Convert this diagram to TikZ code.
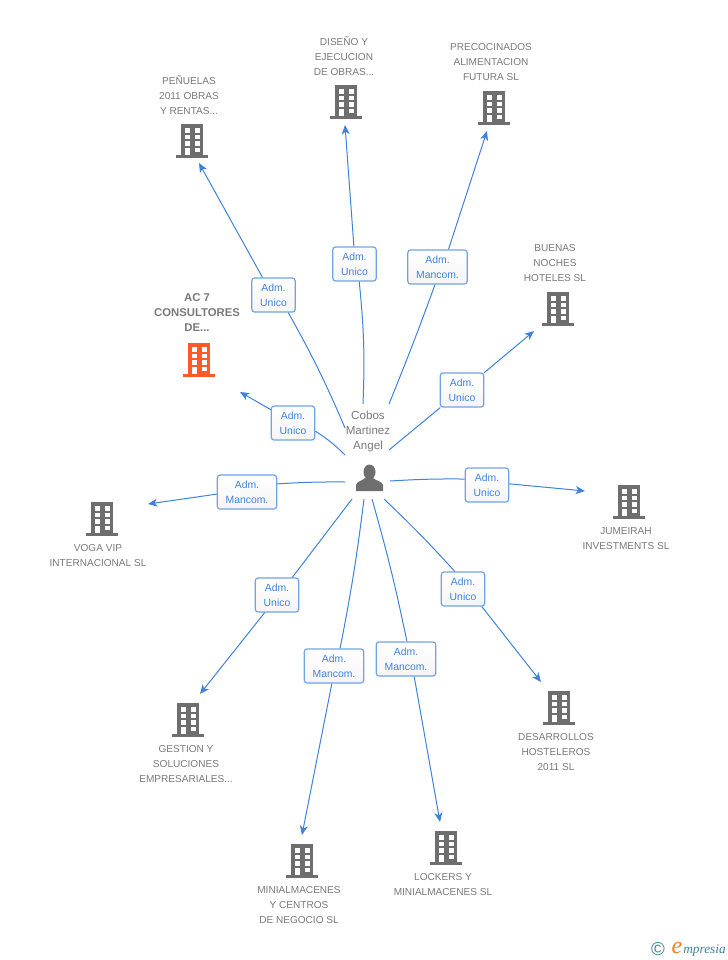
\documentclass[tikz,border=0pt]{standalone}
\usepackage{fontspec}
\setmainfont{Liberation Sans}
\newfontfamily\logofont{Liberation Serif}
\usetikzlibrary{arrows.meta,positioning}
\definecolor{bldgray}{HTML}{6E6E6E}
\definecolor{txtgray}{HTML}{7A7A7A}
\definecolor{orgorange}{HTML}{FF5A2A}
\definecolor{linkblue}{HTML}{3F82DC}
\definecolor{boxblue}{HTML}{6FA3E4}
\definecolor{logoteal}{HTML}{3F7F95}
\definecolor{logoorange}{HTML}{F08020}
\tikzset{
	building/.pic={
		\fill[pic actions] (-11,-17) rectangle (11,16);
		\fill[pic actions] (-16,14) rectangle (16,17);
		\foreach \wy in {-12.7,-6.3,0.3}
		{
			\fill[white] (-7.5,\wy) rectangle (-2,\wy+4.4);
			\fill[white] (2.5,\wy) rectangle (8,\wy+4.4);
		}
		\fill[white] (2.5,7) rectangle (8,11.3);
		\fill[white] (-7.5,7) rectangle (-2,14);
	}
}

\begin{document}
\begin{tikzpicture}
		[
			x=0.75pt,
			y=-0.75pt,
			align=center,
			firm/.style={text=txtgray,font=\fontsize{7.55}{11.25}\selectfont,inner sep=0pt},
			firmbold/.style={firm,font=\fontsize{8.5}{11.25}\selectfont\bfseries},
			personname/.style={firm,font=\fontsize{8.7}{11.25}\selectfont},
			role/.style={draw=boxblue,line width=0.9pt,rounded corners=2pt,top color=white,bottom color=black!4,
				text=linkblue,font=\fontsize{7.8}{11.25}\selectfont,inner sep=0pt,minimum height=25.5pt},
			single/.style={role,minimum width=32.5pt},
			joint/.style={role,minimum width=44.5pt},
			link/.style={draw=linkblue,line width=0.75pt},
			arrow/.style={link,-{Stealth[length=7pt,width=6pt,inset=2pt]}}
		]

		\useasboundingbox (0,0) rectangle (728,960);

		% person
		\node[personname] (Pname) at (368,431) {Cobos\\Martinez\\Angel};
		\fill[bldgray] (356,491) -- (356,485) .. controls (357,481) and (362,481) .. (365,478)
			-- (373,478) .. controls (376,481) and (382,481) .. (383,485) -- (383,491) -- cycle;
		\fill[bldgray] (369.5,472) ellipse (6 and 7.5);

		% companies
		\node[firm] (Penuelas) at (189,95) {PEÑUELAS\\2011 OBRAS\\Y RENTAS...};
		\node[firm] (Diseno) at (344,56) {DISEÑO Y\\EJECUCION\\DE OBRAS...};
		\node[firm] (Precocinados) at (491,62) {PRECOCINADOS\\ALIMENTACION\\FUTURA SL};
		\node[firm] (Buenas) at (555,263) {BUENAS\\NOCHES\\HOTELES SL};
		\node[firmbold] (Consultores) at (197,313) {AC 7\\CONSULTORES\\DE...};
		\node[firm] (Jumeirah) at (626,538.5) {JUMEIRAH\\INVESTMENTS SL};
		\node[firm] (Voga) at (98,555.5) {VOGA VIP\\INTERNACIONAL SL};
		\node[firm] (Gestion) at (186,764) {GESTION Y\\SOLUCIONES\\EMPRESARIALES...};
		\node[firm] (Minial) at (299,905) {MINIALMACENES\\Y CENTROS\\DE NEGOCIO SL};
		\node[firm] (Lockers) at (443,884.5) {LOCKERS Y\\MINIALMACENES SL};
		\node[firm] (Desarrollos) at (556,752) {DESARROLLOS\\HOSTELEROS\\2011 SL};

		% building icons
		\foreach \bx/\by in {192/141,346/102,494/108,558/309,629/502,102/519,188/720,302/861,446/848,559/708}
		\pic[fill=bldgray] at (\bx,\by) {building};
		\pic[fill=orgorange] at (199,360) {building};

		% role boxes
		\node[single] (R1) at (273.5,295) {Adm.\\Unico};
		\node[single] (R2) at (354.5,264) {Adm.\\Unico};
		\node[joint] (R3) at (437.5,267) {Adm.\\Mancom.};
		\node[single] (R4) at (462,390) {Adm.\\Unico};
		\node[single] (R5) at (293,423) {Adm.\\Unico};
		\node[single] (R6) at (487,485) {Adm.\\Unico};
		\node[joint] (R7) at (247,492) {Adm.\\Mancom.};
		\node[single] (R8) at (277,595) {Adm.\\Unico};
		\node[joint] (R9) at (334,666) {Adm.\\Mancom.};
		\node[joint] (R10) at (406,659) {Adm.\\Mancom.};
		\node[single] (R11) at (463,589) {Adm.\\Unico};

		% link starts round the person
		\coordinate (S1) at (345,428);
		\coordinate (S2) at (363,404);
		\coordinate (S3) at (389,404);
		\coordinate (S4) at (389,450);
		\coordinate (S5) at (345,455);
		\coordinate (S6) at (390,481);
		\coordinate (S7) at (345,482);
		\coordinate (S8) at (352,499);
		\coordinate (S9) at (364,499);
		\coordinate (S10) at (372,499);
		\coordinate (S11) at (384,499);

		% arrow ends
		\coordinate (E1) at (199,163);
		\coordinate (E2) at (345,125);
		\coordinate (E3) at (487,131);
		\coordinate (E4) at (534,331);
		\coordinate (E5) at (240,392);
		\coordinate (E6) at (585,491);
		\coordinate (E7) at (148,504);
		\coordinate (E8) at (200,694);
		\coordinate (E9) at (302,835);
		\coordinate (E10) at (440,822);
		\coordinate (E11) at (541,682);

		% links from the person to the boxes
		\foreach \from/\to/\ang/\bendang in
		{S1/R1/-50/-3,S2/R2/-75/-4,S3/R3/-98/-1,S4/R4/-141/0,S5/R5/-20/-6,S6/R6/165/2,
		S7/R7/15/-2,S8/R8/49/0,S9/R9/71/2,S10/R10/87/2,S11/R11/115/2}
		\draw[link] (\from) to [bend left=\bendang] (\to.\ang);

		% links from the boxes to the arrow ends
		\foreach \from/\ang/\to in
		{R1/122/E1,R2/92/E2,R3/58/E3,R4/38/E4,R5/149/E5,R6/3/E6,R7/184/E7,R8/235/E8,R9/263/E9,R10/295/E10,R11/317/E11}
		\draw[arrow] (\from.\ang) -- (\to);

		% logo
		\node[text=logoteal,font=\fontsize{14}{14}\selectfont,inner sep=0pt] (Copy) at (658,949) {\textcopyright};
		\node[text=logoorange,font=\logofont\itshape\fontsize{18}{18}\selectfont,inner sep=0pt] (LogoE) at (677,948) {e};
		\node[text=logoteal,font=\logofont\itshape\fontsize{10}{10}\selectfont,inner sep=0pt,anchor=west] (LogoName) at (683,950) {mpresia};

	\end{tikzpicture}
\end{document}
